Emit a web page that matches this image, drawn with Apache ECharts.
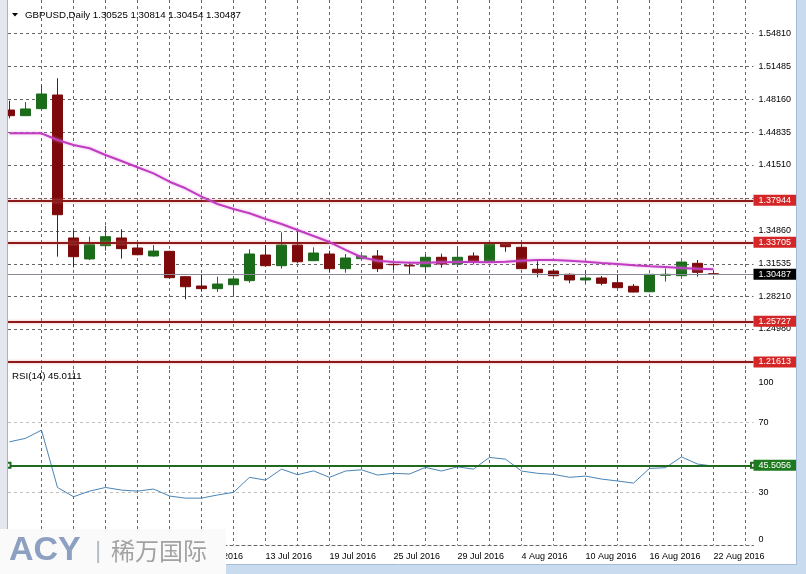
<!DOCTYPE html>
<html><head><meta charset="utf-8">
<script src="https://cdn.jsdelivr.net/npm/echarts@6/dist/echarts.min.js"></script>
<style>html,body{margin:0;padding:0;background:#fff}#c{width:806px;height:574px}</style>
</head><body><div id="c"></div>
<script>
const symbolName = 'GBPUSD,Daily';
const dates = ['21 Jun 2016','22 Jun 2016','23 Jun 2016','24 Jun 2016','27 Jun 2016','28 Jun 2016','29 Jun 2016','30 Jun 2016',
 '1 Jul 2016','4 Jul 2016','5 Jul 2016','6 Jul 2016','7 Jul 2016','8 Jul 2016','11 Jul 2016','12 Jul 2016','13 Jul 2016','14 Jul 2016',
 '15 Jul 2016','18 Jul 2016','19 Jul 2016','20 Jul 2016','21 Jul 2016','22 Jul 2016','25 Jul 2016','26 Jul 2016','27 Jul 2016','28 Jul 2016',
 '29 Jul 2016','1 Aug 2016','2 Aug 2016','3 Aug 2016','4 Aug 2016','5 Aug 2016','8 Aug 2016','9 Aug 2016','10 Aug 2016','11 Aug 2016',
 '12 Aug 2016','15 Aug 2016','16 Aug 2016','17 Aug 2016','18 Aug 2016','19 Aug 2016','22 Aug 2016'];
const open  = [1.4706,1.4649,1.4720,1.4858,1.3414,1.3202,1.3336,1.3414,1.3313,1.3232,1.3279,1.3023,1.2929,1.2902,1.2942,1.2983,
 1.3242,1.3134,1.3343,1.3185,1.3252,1.3104,1.3205,1.3232,1.3148,1.3137,1.3124,1.3219,1.3151,1.3232,1.3174,1.3353,1.3320,1.3098,
 1.3080,1.3047,1.2990,1.3010,1.2962,1.2926,1.2871,1.3037,1.3033,1.3158,1.30525];
const high  = [1.4800,1.4787,1.4962,1.5027,1.3488,1.3427,1.3538,1.3502,1.3353,1.3343,1.3285,1.3028,1.3040,1.3023,1.3023,1.3300,
 1.3343,1.3471,1.3505,1.3320,1.3285,1.3252,1.3252,1.3293,1.3174,1.3174,1.3245,1.3255,1.3326,1.3269,1.3370,1.3373,1.3353,1.3185,
 1.3100,1.3057,1.3091,1.3030,1.3040,1.2949,1.3050,1.3108,1.3175,1.3192,1.30814];
const low   = [1.4623,1.4645,1.4715,1.3225,1.3117,1.3192,1.3286,1.3205,1.3240,1.3225,1.3005,1.2795,1.2871,1.2868,1.2828,1.2962,
 1.3130,1.3104,1.3158,1.3180,1.3070,1.3063,1.3195,1.3070,1.3091,1.3050,1.3063,1.3114,1.3124,1.3148,1.3170,1.3275,1.3100,1.3017,
 1.3030,1.2956,1.2956,1.2936,1.2908,1.2865,1.2866,1.2974,1.3030,1.3023,1.30454];
const close = [1.4649,1.4717,1.4868,1.3649,1.3225,1.3346,1.3427,1.3306,1.3245,1.3282,1.3013,1.2922,1.2902,1.2949,1.3000,1.3252,
 1.3134,1.3343,1.3174,1.3262,1.3104,1.3212,1.3232,1.3104,1.3144,1.3131,1.3219,1.3151,1.3219,1.3174,1.3353,1.3326,1.3104,1.3063,
 1.3033,1.2990,1.3010,1.2956,1.2912,1.2868,1.3047,1.3047,1.3171,1.3067,1.30487];
const maValues = [1.4471,1.4471,1.4471,1.4403,1.4353,1.4320,1.4252,1.4191,1.4128,1.4067,1.3982,1.3916,1.3831,1.3757,1.3707,1.3663,
 1.3606,1.3555,1.3495,1.3434,1.3373,1.3293,1.3219,1.3185,1.3171,1.3164,1.3164,1.3168,1.3171,1.3171,1.3168,1.3174,1.3185,1.3192,
 1.3192,1.3185,1.3174,1.3161,1.3151,1.3138,1.3128,1.3121,1.3111,1.3104,1.3098];
const rsiValues = [58.9,60.9,65.6,32.8,27.5,30.7,32.8,31.3,30.7,31.9,27.9,26.7,26.7,28.5,30.0,38.6,37.0,43.3,40.1,42.3,38.6,42.2,
 42.9,39.9,40.9,40.5,44.3,42.2,44.6,43.3,50.0,49.0,42.2,40.9,40.3,38.6,39.3,37.6,36.5,35.3,43.7,44.1,50.3,46.2,45.0111];
const levels = [1.37944,1.33705,1.25727,1.21613];
const rsiLevel = 45.5056;
const priceTicks = [1.54810,1.51485,1.48160,1.44835,1.41510,1.38185,1.34860,1.31535,1.28210,1.24885];
const priceLabels = [1.54810,1.51485,1.48160,1.44835,1.41510,1.34860,1.31535,1.28210,1.24980];
const rsiTicks = [70,30];
const rsiLabels = [100,70,30,0];
const xGridIdx = [2,4,6,8,10,12,14,16,18,20,22,24,26,28,30,32,34,36,38,40,42,44,46];
const xLabelIdx = [0,4,8,12,16,20,24,28,32,36,40,44];

const FONT = 'Liberation Sans';
const last = dates.length - 1;
const candles = dates.map((d,i)=>[i, open[i], close[i], low[i], high[i]]);
const maData = maValues.map((v,i)=>[i,v]);
const rsiData = rsiValues.map((v,i)=>[i,v]);
const header = symbolName + ' ' + [open[last],high[last],low[last],close[last]].map(v=>v.toFixed(5)).join(' ');

const gridLine = {color:'#666', type:[3,3], width:1};
const GL = 8, GR = 806 - 753.5;
const XMIN = -0.09375, XMAX = 46.5;

const chart = echarts.init(document.getElementById('c'));
chart.setOption({
  animation:false,
  backgroundColor:'#fff',
  textStyle:{fontFamily:FONT},
  title:[
    {text:header, left:25, top:10, padding:0, textStyle:{fontSize:9.7, fontWeight:'normal', color:'#000', fontFamily:FONT}},
    {text:'RSI(14) ' + rsiValues[last].toFixed(4), left:12, top:371, padding:0, textStyle:{fontSize:9.7, fontWeight:'normal', color:'#000', fontFamily:FONT}}
  ],
  grid:[{left:GL, right:GR, top:0, height:369.5},{left:GL, right:GR, top:370, height:174.8}],
  xAxis:[
    {type:'value', gridIndex:0, min:XMIN, max:XMAX, axisLine:{show:false}, axisTick:{show:false, customValues:xGridIdx},
     axisLabel:{show:false}, splitLine:{show:true, lineStyle:gridLine}},
    {type:'value', gridIndex:1, min:XMIN, max:XMAX, axisLine:{show:true, lineStyle:gridLine}, axisTick:{show:false, customValues:xGridIdx},
     axisLabel:{show:true, customValues:xLabelIdx, formatter:v=>dates[Math.round(v)], align:'left', fontSize:9, color:'#000', margin:7, fontFamily:FONT},
     splitLine:{show:true, lineStyle:gridLine}}
  ],
  yAxis:[
    {type:'value', gridIndex:0, position:'right', min:1.20857, max:1.58173, axisLine:{show:false},
     axisTick:{show:false, customValues:priceTicks},
     axisLabel:{customValues:priceLabels, formatter:v=>v.toFixed(5), fontSize:9, color:'#000', margin:5, fontFamily:FONT},
     splitLine:{show:true, lineStyle:gridLine}},
    {type:'value', gridIndex:1, position:'right', min:0, max:100, axisLine:{show:false},
     axisTick:{show:false, customValues:rsiTicks},
     axisLabel:{customValues:rsiLabels, fontSize:9, color:'#000', margin:5, fontFamily:FONT,
       formatter:v=> v===100 ? '{t|100}' : (v===0 ? '{b|0}' : String(v)),
       rich:{t:{padding:[26,0,0,0], fontSize:9, fontFamily:FONT}, b:{padding:[0,0,11,0], fontSize:9, fontFamily:FONT}}},
     splitLine:{show:true, lineStyle:{color:'#c0c0c0', type:[3,3], width:1}}}
  ],
  series:[
    {type:'candlestick', xAxisIndex:0, yAxisIndex:0, data:candles, barWidth:10,
     itemStyle:{color:'#1B6B1B', color0:'#7D0A0A', borderColor:'#1B6B1B', borderColor0:'#7D0A0A', borderWidth:1},
     markLine:{silent:true, symbol:['none','none'], animation:false, precision:5,
       label:{position:'end', distance:0, formatter:p=>Number(p.value).toFixed(5), color:'#fff', fontSize:9, fontFamily:FONT,
              padding:[1,5,0,5], lineHeight:10, backgroundColor:'#D42626'},
       lineStyle:{type:'solid', color:'#8B1A1A', width:2, shadowColor:'rgba(235,140,140,0.7)', shadowBlur:3},
       data: levels.map(v=>({yAxis:v})).concat([{yAxis:close[last],
             lineStyle:{color:'#8a8a96', width:1, type:'solid', shadowBlur:0},
             label:{backgroundColor:'#000'}}])}
    },
    {type:'line', xAxisIndex:0, yAxisIndex:0, data:maData, showSymbol:false, z:5,
     lineStyle:{color:'#C23CC2', width:2, shadowColor:'rgba(225,140,225,0.7)', shadowBlur:3}},
    {type:'line', xAxisIndex:1, yAxisIndex:1, data:rsiData, showSymbol:false,
     lineStyle:{color:'#4A84B6', width:1},
     markLine:{silent:true, symbol:['emptyRect','emptyRect'], symbolSize:5, animation:false, precision:4,
       lineStyle:{type:'solid', color:'#1F6A1F', width:2},
       label:{position:'end', distance:0, formatter:p=>Number(p.value).toFixed(4), color:'#fff', fontSize:9, fontFamily:FONT,
              padding:[1,5,0,5], lineHeight:10, backgroundColor:'#1E7A1E'},
       data:[{yAxis:rsiLevel}]}}
  ],
  graphic:[
    {type:'polygon', shape:{points:[[12,13],[18,13],[15,16.5]]}, style:{fill:'#000'}, z:10},
    {type:'rect', shape:{x:0,y:0,width:8,height:574}, style:{fill:'#e4e8ee'}, z:20},
    {type:'line', shape:{x1:7.5,y1:0,x2:7.5,y2:574}, style:{stroke:'#a9b3c1', lineWidth:1}, z:21},
    {type:'rect', shape:{x:797,y:0,width:9,height:574}, style:{fill:'#c9dbef'}, z:20},
    {type:'line', shape:{x1:796.5,y1:0,x2:796.5,y2:565}, style:{stroke:'#a5bbd6', lineWidth:1}, z:21},
    {type:'rect', shape:{x:0,y:565,width:806,height:9}, style:{fill:'#c9dbef'}, z:20},
    {type:'line', shape:{x1:0,y1:564.5,x2:797,y2:564.5}, style:{stroke:'#a5bbd6', lineWidth:1}, z:21},
    {type:'rect', shape:{x:0,y:529,width:226,height:45}, style:{fill:'#fafafa'}, z:30},
    {type:'text', x:9, y:551, style:{text:'ACY', font:'bold 34px "Liberation Sans"', fill:'#8DA0C2', verticalAlign:'middle'}, z:31},
    {type:'text', x:95, y:551, style:{text:'|', font:'24px "Liberation Sans"', fill:'#b5bcc8', verticalAlign:'middle'}, z:31},
    {type:'text', x:111, y:551, style:{text:'稀万国际', font:'24px "Noto Sans CJK SC"', fill:'#a2a2a2', verticalAlign:'middle'}, z:31}
  ]
});
</script></body></html>
